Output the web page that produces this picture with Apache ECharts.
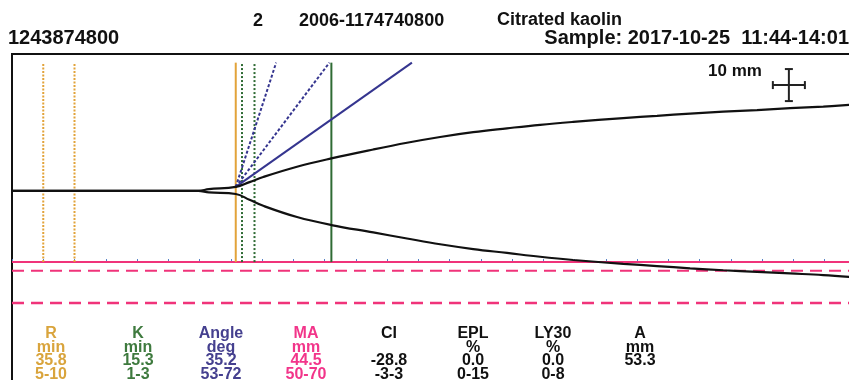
<!DOCTYPE html>
<html>
<head>
<meta charset="utf-8">
<script src="https://cdn.jsdelivr.net/npm/echarts@6/dist/echarts.min.js"></script>
<style>
  html, body { margin: 0; padding: 0; background: #fff; }
  #chart { width: 849px; height: 380px; }
</style>
</head>
<body>
<div id="chart"></div>
<script>
  // trace: [minutes, mm from baseline]
  const upperTrace = [[0, 0], [29.8, 0], [31.5, 0.5], [35.8, 1.2], [38, 2.7], [40.2, 4.3], [45.6, 7.5], [51.1, 10.1], [57.8, 12.9],
    [63.2, 15.0], [68.5, 16.8], [73.8, 18.3], [79.2, 19.5], [84.5, 20.6], [89.8, 21.5], [97.8, 22.7],
    [103.2, 23.4], [108.5, 24.1], [113.8, 24.7], [119.2, 25.2], [124.5, 25.8], [129.8, 26.3], [134, 26.8]]
  const lowerTrace = [[0, 0], [29.8, 0], [31.5, -0.5], [35.8, -1.0], [38, -2.8], [40.2, -4.7], [45.6, -8.2], [51.1, -10.7], [57.8, -13.0],
    [63.2, -14.9], [68.5, -16.7], [73.8, -18.2], [79.2, -19.4], [84.5, -20.6], [89.8, -21.6], [97.8, -22.8],
    [103.2, -23.5], [108.5, -24.2], [113.8, -24.8], [119.2, -25.3], [124.5, -25.8], [129.8, -26.3], [134, -26.9]]

  const rValue = 35.8
  const kValue = 15.3
  const angleValue = 35.2
  const maValue = 44.5
  const rRange = [5, 10]
  const kRange = [1, 3]
  const angleRange = [53, 72]
  const maRange = [50, 70]

  const resultNames = ['R', 'K', 'Angle', 'MA', 'CI', 'EPL', 'LY30', 'A']
  const resultUnits = ['min', 'min', 'deg', 'mm', '', '%', '%', 'mm']
  const resultValues = ['35.8', '15.3', '35.2', '44.5', '-28.8', '0.0', '0.0', '53.3']
  const resultRanges = ['5-10', '1-3', '53-72', '50-70', '-3-3', '0-15', '0-8', '']

  // layout
  const GRID = { left: 12, top: 54, width: 875, height: 345 }
  const X_MAX = 140
  const Y_MIN = -65
  const Y_MAX = 42.7
  const pxPerMin = GRID.width / X_MAX
  const pxPerMm = GRID.height / (Y_MAX - Y_MIN)
  const markTop = 40
  const colX = [51, 138, 221, 306, 389, 473, 553, 640]
  const rowY = [334, 347.5, 361, 375]

  const C = {
    r: '#E2A33A', k: '#2F6B34', angle: '#35358F', ma: '#F0337A', trace: '#111',
    rText: '#D9A43C', kText: '#3E7A3E', angleText: '#45408F', maText: '#F2358A'
  }
  const colColors = [C.rText, C.kText, C.angleText, C.maText, '#111', '#111', '#111', '#111']

  const chart = echarts.init(document.getElementById('chart'))

  const seg = (data, color, width, type) => ({
    type: 'line', data: data, symbol: 'none', silent: true, animation: false,
    lineStyle: { color: color, width: width, type: type || 'solid' }
  })
  const vline = (t, color, type) => seg([[t, -maValue / 2], [t, markTop]], color, 2, type)
  const angleLine = (deg, type) => {
    const y0 = 1.2
    const dt = (markTop - y0) * pxPerMm / pxPerMin / Math.tan(deg * Math.PI / 180)
    return seg([[rValue, y0], [rValue + dt, markTop]], C.angle, 2, type)
  }

  const series = [
    seg([[0, -maValue / 2], [X_MAX, -maValue / 2]], C.ma, 2),
    seg([[0, -maRange[0] / 2], [X_MAX, -maRange[0] / 2]], C.ma, 2, [12, 7]),
    seg([[0, -maRange[1] / 2], [X_MAX, -maRange[1] / 2]], C.ma, 2.5, [12, 7]),
    vline(rRange[0], C.r, [2, 1.5]),
    vline(rRange[1], C.r, [2, 1.5]),
    vline(rValue, C.r),
    vline(rValue + kRange[0], C.k, [2, 2]),
    vline(rValue + kRange[1], C.k, [2, 2]),
    vline(rValue + kValue, C.k),
    angleLine(angleRange[0], [3, 2]),
    angleLine(angleRange[1], [3, 2]),
    angleLine(angleValue),
    Object.assign(seg(upperTrace, C.trace, 2.2), { smooth: 0.4 }),
    Object.assign(seg(lowerTrace, C.trace, 2.2), { smooth: 0.4 })
  ]

  // 10 mm scale cross
  const barT = 124.3, barMm = 33, barLen = 10
  const halfMin = (barLen / 2) * pxPerMm / pxPerMin
  series.push(Object.assign(seg([[barT, barMm - barLen / 2], [barT, barMm + barLen / 2]], '#222', 2),
    { symbol: 'rect', symbolSize: [8, 2], showSymbol: true, itemStyle: { color: '#222' } }))
  series.push(Object.assign(seg([[barT - halfMin, barMm], [barT + halfMin, barMm]], '#222', 2),
    { symbol: 'rect', symbolSize: [2, 8], showSymbol: true, itemStyle: { color: '#222' } }))

  const FONT = "'Liberation Sans', Arial, sans-serif"
  const txt = (text, x, y, size, color, align) => ({
    type: 'text', x: x, y: y, silent: true,
    style: {
      text: text, fill: color || '#111', font: 'bold ' + size + 'px ' + FONT,
      align: align || 'left', textAlign: align || 'left', verticalAlign: 'middle', textVerticalAlign: 'middle'
    }
  })

  const graphic = [
    txt('2', 258, 21, 18, '#111', 'center'),
    txt('2006-1174740800', 299, 21, 18),
    txt('Citrated kaolin', 497, 20, 18),
    txt('1243874800', 8, 38.5, 20),
    txt('Sample: 2017-10-25  11:44-14:01', 849, 38.5, 20, '#111', 'right'),
    txt('10 mm', 708, 71, 17)
  ]
  resultNames.forEach((name, i) => {
    const rows = [name, resultUnits[i], resultValues[i], resultRanges[i]]
    rows.forEach((s, j) => {
      if (s) graphic.push(txt(s, colX[i], rowY[j], 16, colColors[i], 'center'))
    })
  })

  const option = {
    backgroundColor: '#fff',
    animation: false,
    grid: {
      left: GRID.left, top: GRID.top, width: GRID.width, height: GRID.height,
      outerBoundsMode: 'none', containLabel: false,
      show: true, borderColor: '#111', borderWidth: 2, backgroundColor: '#fff'
    },
    xAxis: {
      type: 'value', min: 0, max: X_MAX, interval: 5,
      axisLine: { show: false, onZero: true, onZeroAxisIndex: 1 },
      axisTick: { show: true, inside: true, length: 3, lineStyle: { color: '#4f7cc4', width: 1 } },
      axisLabel: { show: false },
      splitLine: { show: false }
    },
    yAxis: [
      { type: 'value', min: Y_MIN, max: Y_MAX, show: false, splitLine: { show: false } },
      { type: 'value', min: Y_MIN + maValue / 2, max: Y_MAX + maValue / 2, show: false, splitLine: { show: false } }
    ],
    series: series,
    graphic: graphic
  }

  option && chart.setOption(option)
</script>
</body>
</html>
